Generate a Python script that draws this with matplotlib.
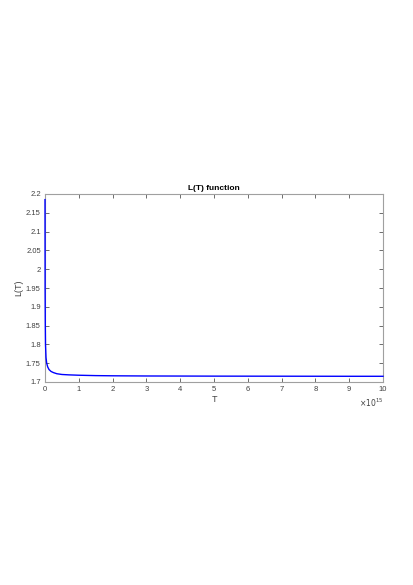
import matplotlib
matplotlib.use("Agg")
import matplotlib.pyplot as plt
import numpy as np

# Data (T in units of 1e15)
T_vals = [0, 0.003, 0.008, 0.015, 0.03, 0.05, 0.08, 0.12, 0.18, 0.25, 0.35, 0.5,
          0.7, 1.0, 1.5, 2, 3, 4, 5, 6, 7, 8, 9, 10]
L_vals = [2.185, 1.95, 1.86, 1.80, 1.765, 1.75, 1.740, 1.733, 1.728, 1.725, 1.722,
          1.720, 1.719, 1.718, 1.717, 1.7165, 1.716, 1.7158, 1.7156, 1.7155,
          1.7154, 1.7153, 1.7152, 1.7152]
x_ticks = [0, 1, 2, 3, 4, 5, 6, 7, 8, 9, 10]
y_ticks = [1.7, 1.75, 1.8, 1.85, 1.9, 1.95, 2, 2.05, 2.1, 2.15, 2.2]
y_tick_labels = ["1.7", "1.75", "1.8", "1.85", "1.9", "1.95", "2", "2.05", "2.1", "2.15", "2.2"]

plt.rcParams['font.family'] = ['Liberation Sans', 'DejaVu Sans']

fig = plt.figure(figsize=(4.13, 5.85), dpi=100)
ax = fig.add_axes([45/413, 1-382/585, (383-45)/413, (382-194)/585])

ax.plot(T_vals, L_vals, color=(0, 0, 1), linewidth=1.0, zorder=3, clip_on=False)
ax.set_xlim(0, 10)
ax.set_ylim(1.7, 2.2)
ax.set_xticks(x_ticks)
ax.set_xticklabels([str(v) for v in x_ticks])
ax.set_yticks(y_ticks)
ax.set_yticklabels(y_tick_labels)

for s in ax.spines.values():
    s.set_color('#a0a0a0')
    s.set_linewidth(0.8)
    s.set_zorder(2)
ax.tick_params(direction='in', top=True, right=True, length=3, width=0.6,
               color='#555555', labelsize=5.5, labelcolor='#404040', pad=3)

ax.set_title('L(T) function', fontsize=6, fontweight='bold', pad=3)
ax.set_xlabel('T', fontsize=6.5, color='#404040', labelpad=1)
ax.set_ylabel('L(T)', fontsize=6.5, color='#404040', labelpad=2)
ax.text(1.0, -0.08, r'$\times10^{15}$', transform=ax.transAxes, ha='right',
        va='top', fontsize=5.5, color='#404040')

fig.savefig('out.png', dpi=100)
